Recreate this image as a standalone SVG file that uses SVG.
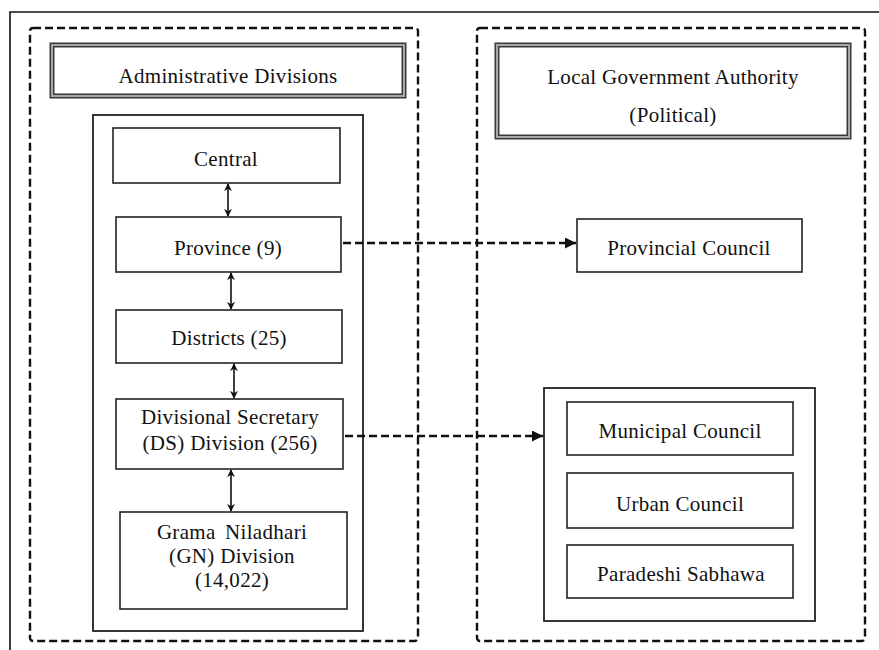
<svg xmlns="http://www.w3.org/2000/svg" width="879" height="650" viewBox="0 0 879 650">
  <style>
    .frame { fill: none; stroke: #111; stroke-width: 1.6; }
    .dash { fill: none; stroke: #111; stroke-width: 2.4; stroke-dasharray: 8 4; }
    .box { fill: #fff; stroke: #222; stroke-width: 1.6; }
    .group { fill: none; stroke: #222; stroke-width: 1.8; }
    .dbl-out { fill: #fff; stroke: #3a3a3a; stroke-width: 5; }
    .dbl-in { fill: none; stroke: #a8a8a8; stroke-width: 2; }
    text { font-family: "Liberation Serif", "Times New Roman", serif; font-size: 21px; fill: #111; text-anchor: middle; letter-spacing: 0.3px; }
    .link { stroke: #111; stroke-width: 1.6; fill: none; marker-start: url(#tip); marker-end: url(#tip); }
    .flow { stroke: #111; stroke-width: 2.4; stroke-dasharray: 8 4; fill: none; marker-end: url(#head); }
  </style>
  <defs>
    <marker id="tip" viewBox="0 0 10 10" refX="9" refY="5" markerWidth="8" markerHeight="8" markerUnits="userSpaceOnUse" orient="auto-start-reverse">
      <path d="M0,0 L10,5 L0,10 L3,5 Z" fill="#111"/>
    </marker>
    <marker id="head" viewBox="0 0 10 10" refX="10" refY="5" markerWidth="11" markerHeight="11" markerUnits="userSpaceOnUse" orient="auto">
      <path d="M0,0 L10,5 L0,10 Z" fill="#111"/>
    </marker>
  </defs>

  <rect width="879" height="650" fill="#fff"/>
  <!-- outer page frame, open to the right and bottom -->
  <path class="frame" d="M10,650 L10,12 L879,12"/>

  <!-- dashed column containers -->
  <rect class="dash" x="30" y="28" width="388" height="613" rx="3"/>
  <rect class="dash" x="477" y="28" width="388" height="613" rx="3"/>

  <!-- left column -->
  <g id="admin-title">
    <rect class="dbl-out" x="52" y="45" width="352" height="51"/>
    <rect class="dbl-in" x="52" y="45" width="352" height="51"/>
    <text x="228" y="83" letter-spacing="0.4">Administrative Divisions</text>
  </g>

  <g id="admin-group">
    <rect class="group" x="93" y="115" width="270" height="516"/>
  </g>

  <g id="central">
    <rect class="box" x="113" y="128" width="227" height="55"/>
    <text x="226" y="166">Central</text>
  </g>

  <g id="province">
    <rect class="box" x="116" y="217" width="225" height="55"/>
    <text x="228" y="255">Province (9)</text>
  </g>

  <g id="districts">
    <rect class="box" x="116" y="310" width="226" height="53"/>
    <text x="229" y="345">Districts (25)</text>
  </g>

  <g id="ds-division">
    <rect class="box" x="116" y="399" width="227" height="70"/>
    <text x="230" y="424">Divisional Secretary</text>
    <text x="230" y="450">(DS) Division (256)</text>
  </g>

  <g id="gn-division">
    <rect class="box" x="120" y="512" width="227" height="97"/>
    <text x="232" y="539" word-spacing="4">Grama Niladhari</text>
    <text x="232" y="563">(GN) Division</text>
    <text x="232" y="587">(14,022)</text>
  </g>

  <!-- right column -->
  <g id="lga-title">
    <rect class="dbl-out" x="497" y="45" width="352" height="92"/>
    <rect class="dbl-in" x="497" y="45" width="352" height="92"/>
    <text x="673" y="84" letter-spacing="0.55">Local Government Authority</text>
    <text x="673" y="122">(Political)</text>
  </g>

  <g id="provincial-council">
    <rect class="box" x="577" y="219" width="225" height="53"/>
    <text x="689" y="255">Provincial Council</text>
  </g>

  <g id="local-group">
    <rect class="group" x="544" y="388" width="271" height="233"/>
  </g>

  <g id="municipal-council">
    <rect class="box" x="567" y="402" width="226" height="53"/>
    <text x="680" y="438">Municipal Council</text>
  </g>

  <g id="urban-council">
    <rect class="box" x="567" y="473" width="226" height="55"/>
    <text x="680" y="511">Urban Council</text>
  </g>

  <g id="paradeshi-sabhawa">
    <rect class="box" x="567" y="545" width="226" height="53"/>
    <text x="681" y="581">Paradeshi Sabhawa</text>
  </g>

  <!-- connectors -->
  <g id="connectors">
    <line class="link" x1="228" y1="184" x2="228" y2="216"/>
    <line class="link" x1="231" y1="273" x2="231" y2="309"/>
    <line class="link" x1="234" y1="364" x2="234" y2="398"/>
    <line class="link" x1="231" y1="470" x2="231" y2="511"/>
    <line class="flow" x1="343" y1="243" x2="576" y2="243"/>
    <line class="flow" x1="345" y1="436" x2="543" y2="436"/>
  </g>
</svg>
